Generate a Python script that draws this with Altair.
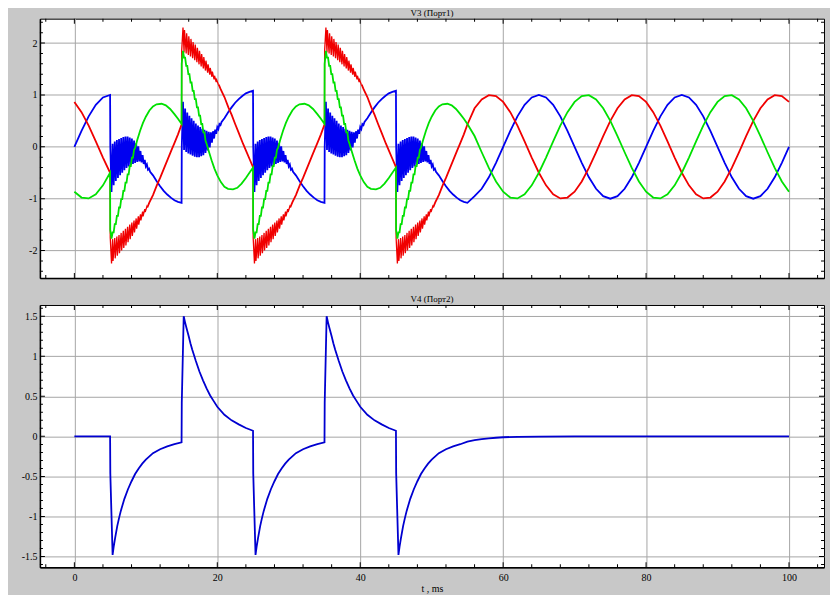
import altair as alt
import pandas as pd

FONT = "Liberation Serif"
BG = "#c8c8c8"
GRID = "#a6a6a6"

# ---------------- axes ----------------
x_domain = [-4.82, 104.9]
x_major = [0, 20, 40, 60, 80, 100]
x_minor = [-4, 4, 8, 12, 16, 24, 28, 32, 36, 44, 48, 52, 56, 64, 68, 72, 76,
           84, 88, 92, 96, 104]

y1_domain = [-2.53, 2.47]
y1_major = [-2, -1, 0, 1, 2]
y1_minor = [-2.4, -2.2, -1.8, -1.6, -1.4, -1.2, -0.8, -0.6, -0.4, -0.2,
            0.2, 0.4, 0.6, 0.8, 1.2, 1.4, 1.6, 1.8, 2.2, 2.4]

y2_domain = [-1.635, 1.64]
y2_major = [-1.5, -1.0, -0.5, 0, 0.5, 1.0, 1.5]
y2_minor = [-1.6, -1.4, -1.3, -1.2, -1.1, -0.9, -0.8, -0.7, -0.6, -0.4, -0.3,
            -0.2, -0.1, 0.1, 0.2, 0.3, 0.4, 0.6, 0.7, 0.8, 0.9, 1.1, 1.2,
            1.3, 1.4, 1.6]

# ---------------- switching instants (ms) ----------------
fault1_starts = [5, 25, 45]
fault2_starts = [15, 35]

# ---------------- V3: before the first switching ----------------
t_pre = [0, 1, 2, 3, 4, 5]
a_pre = [0.0, 0.309, 0.588, 0.809, 0.951, 1.0]        # blue
b_pre = [0.866, 0.669, 0.407, 0.105, -0.208, -0.5]    # red
c_pre = [-0.866, -0.978, -0.995, -0.914, -0.743, -0.5]  # green

# ---------------- V3: steady state after t = 56 ms ----------------
t_post = list(range(56, 101))
a_post = [-0.951, -0.809, -0.588, -0.309,
          0.0, 0.309, 0.588, 0.809, 0.951, 1.0, 0.951, 0.809, 0.588, 0.309,
          0.0, -0.309, -0.588, -0.809, -0.951, -1.0, -0.951, -0.809, -0.588, -0.309,
          0.0, 0.309, 0.588, 0.809, 0.951, 1.0, 0.951, 0.809, 0.588, 0.309,
          0.0, -0.309, -0.588, -0.809, -0.951, -1.0, -0.951, -0.809, -0.588, -0.309,
          0.0]
b_post = [0.743, 0.914, 0.995, 0.978,
          0.866, 0.669, 0.407, 0.105, -0.208, -0.5, -0.743, -0.914, -0.995, -0.978,
          -0.866, -0.669, -0.407, -0.105, 0.208, 0.5, 0.743, 0.914, 0.995, 0.978,
          0.866, 0.669, 0.407, 0.105, -0.208, -0.5, -0.743, -0.914, -0.995, -0.978,
          -0.866, -0.669, -0.407, -0.105, 0.208, 0.5, 0.743, 0.914, 0.995, 0.978,
          0.866]
c_post = [0.208, -0.105, -0.407, -0.669,
          -0.866, -0.978, -0.995, -0.914, -0.743, -0.5, -0.208, 0.105, 0.407, 0.669,
          0.866, 0.978, 0.995, 0.914, 0.743, 0.5, 0.208, -0.105, -0.407, -0.669,
          -0.866, -0.978, -0.995, -0.914, -0.743, -0.5, -0.208, 0.105, 0.407, 0.669,
          0.866, 0.978, 0.995, 0.914, 0.743, 0.5, 0.208, -0.105, -0.407, -0.669,
          -0.866]

# ---------------- V3: interval shapes (time since switching, value) ----------------
a_fault1 = [(0.03, 0.0), (0.2, -0.87), (0.35, 0.06), (0.5, -0.74), (0.65, 0.1),
            (0.8, -0.66), (0.95, 0.13), (1.1, -0.6), (1.25, 0.15), (1.4, -0.55),
            (1.55, 0.17), (1.7, -0.5), (1.85, 0.19), (2.0, -0.45), (2.15, 0.2),
            (2.3, -0.41), (2.45, 0.2), (2.6, -0.38), (2.75, 0.18), (2.9, -0.35),
            (3.05, 0.16), (3.2, -0.33), (3.35, 0.12), (3.5, -0.31), (3.65, 0.07),
            (3.8, -0.29), (3.95, 0.01), (4.1, -0.28), (4.25, -0.08), (4.4, -0.3),
            (4.55, -0.16), (4.7, -0.33), (4.85, -0.25), (5.0, -0.38), (5.15, -0.34),
            (5.3, -0.44), (5.45, -0.42), (5.6, -0.48), (6.0, -0.55), (6.5, -0.66),
            (7.0, -0.76), (7.5, -0.85), (8.0, -0.92), (8.5, -0.98), (9.0, -1.03),
            (9.5, -1.06), (10.0, -1.08)]
a_fault2 = [(0.03, 0.0), (0.2, 0.87), (0.35, -0.06), (0.5, 0.74), (0.65, -0.1),
            (0.8, 0.66), (0.95, -0.13), (1.1, 0.6), (1.25, -0.15), (1.4, 0.55),
            (1.55, -0.17), (1.7, 0.5), (1.85, -0.19), (2.0, 0.45), (2.15, -0.2),
            (2.3, 0.41), (2.45, -0.2), (2.6, 0.38), (2.75, -0.18), (2.9, 0.35),
            (3.05, -0.16), (3.2, 0.33), (3.35, -0.12), (3.5, 0.31), (3.65, -0.07),
            (3.8, 0.29), (3.95, -0.01), (4.1, 0.28), (4.25, 0.08), (4.4, 0.3),
            (4.55, 0.16), (4.7, 0.33), (4.85, 0.25), (5.0, 0.38), (5.15, 0.34),
            (5.3, 0.44), (5.45, 0.42), (5.6, 0.48), (6.0, 0.55), (6.5, 0.66),
            (7.0, 0.76), (7.5, 0.85), (8.0, 0.92), (8.5, 0.98), (9.0, 1.03),
            (9.5, 1.06), (10.0, 1.08)]
b_fault1 = [(0.02, -1.75), (0.2, -2.25), (0.35, -1.78), (0.41, -2.2), (0.65, -1.76),
            (0.71, -2.15), (0.95, -1.73), (1.01, -2.1), (1.25, -1.7), (1.31, -2.05),
            (1.55, -1.66), (1.61, -2.0), (1.85, -1.62), (1.91, -1.95), (2.15, -1.58),
            (2.21, -1.9), (2.45, -1.54), (2.51, -1.84), (2.75, -1.5), (2.81, -1.78),
            (3.05, -1.46), (3.11, -1.72), (3.35, -1.42), (3.41, -1.65), (3.65, -1.38),
            (3.71, -1.58), (3.95, -1.34), (4.01, -1.5), (4.25, -1.3), (4.31, -1.42),
            (4.55, -1.25), (4.61, -1.34), (4.85, -1.2), (4.91, -1.26), (5.15, -1.15),
            (5.21, -1.17), (5.5, -1.07), (6.0, -0.93), (6.55, -0.74), (7.0, -0.6),
            (7.5, -0.43), (8.0, -0.26), (8.6, -0.06), (9.0, 0.07), (9.5, 0.24),
            (10.0, 0.43)]
b_fault2 = [(0.02, 1.85), (0.2, 2.3), (0.35, 1.82), (0.41, 2.25), (0.65, 1.8),
            (0.71, 2.19), (0.95, 1.77), (1.01, 2.13), (1.25, 1.74), (1.31, 2.08),
            (1.55, 1.71), (1.61, 2.02), (1.85, 1.67), (1.91, 1.97), (2.15, 1.63),
            (2.21, 1.91), (2.45, 1.59), (2.51, 1.85), (2.75, 1.55), (2.81, 1.79),
            (3.05, 1.51), (3.11, 1.73), (3.35, 1.47), (3.41, 1.66), (3.65, 1.43),
            (3.71, 1.59), (3.95, 1.39), (4.01, 1.52), (4.25, 1.35), (4.31, 1.45),
            (4.55, 1.3), (4.61, 1.37), (4.85, 1.25), (4.91, 1.29), (5.15, 1.2),
            (5.21, 1.2), (5.5, 1.1), (6.0, 0.96), (6.55, 0.76), (7.0, 0.62),
            (7.5, 0.44), (8.0, 0.27), (8.6, 0.06), (9.0, -0.07), (9.5, -0.23),
            (10.0, -0.39)]
c_fault1 = [(0.02, -1.6), (0.2, -1.77), (0.35, -1.65), (0.5, -1.65), (0.65, -1.49),
            (0.8, -1.49), (0.95, -1.33), (1.1, -1.33), (1.25, -1.17), (1.4, -1.17),
            (1.55, -1.01), (1.7, -1.01), (1.85, -0.85), (2.0, -0.85), (2.15, -0.69),
            (2.3, -0.69), (2.45, -0.53), (2.6, -0.53), (2.75, -0.37), (2.9, -0.37),
            (3.05, -0.21), (3.2, -0.21), (3.35, -0.06), (3.5, -0.02), (3.8, 0.13),
            (4.2, 0.31), (4.6, 0.46), (5.0, 0.58), (5.5, 0.7), (6.0, 0.78),
            (6.5, 0.82), (7.2, 0.83), (7.8, 0.8), (8.4, 0.73), (9.0, 0.63),
            (9.5, 0.54), (10.0, 0.44)]
c_fault2 = [(0.02, 1.6), (0.2, 1.85), (0.35, 1.72), (0.5, 1.72), (0.65, 1.56),
            (0.8, 1.56), (0.95, 1.4), (1.1, 1.4), (1.25, 1.24), (1.4, 1.24),
            (1.55, 1.08), (1.7, 1.08), (1.85, 0.92), (2.0, 0.92), (2.15, 0.76),
            (2.3, 0.76), (2.45, 0.6), (2.6, 0.6), (2.75, 0.44), (2.9, 0.44),
            (3.05, 0.28), (3.2, 0.28), (3.35, 0.12), (3.5, 0.06), (3.8, -0.08),
            (4.2, -0.26), (4.6, -0.42), (5.0, -0.55), (5.5, -0.68), (6.0, -0.77),
            (6.5, -0.81), (7.2, -0.82), (7.8, -0.79), (8.4, -0.71), (9.0, -0.6),
            (9.5, -0.5), (10.0, -0.4)]

# end of the fine ripple (ms after switching) for each phase
ripple_end = {"A": 0.0, "B": 5.21, "C": 0.0}

# ---------------- V4 ----------------
t4_pre = [0, 5]
v4_pre = [0.0, 0.0]
v4_fault1 = [(0.03, -0.46), (0.35, -1.48), (0.5, -1.38), (0.7, -1.27), (1.0, -1.12),
             (1.25, -1.02), (1.5, -0.93), (2.0, -0.78), (2.5, -0.66), (3.0, -0.56),
             (3.5, -0.47), (4.0, -0.4), (4.5, -0.34), (5.0, -0.29), (6.0, -0.21),
             (7.0, -0.16), (8.0, -0.125), (9.0, -0.098), (10.0, -0.075)]
v4_fault2 = [(0.03, 0.42), (0.3, 1.5), (0.5, 1.42), (0.7, 1.35), (1.0, 1.25),
             (1.25, 1.16), (1.5, 1.08), (2.0, 0.94), (2.5, 0.81), (3.0, 0.7),
             (3.5, 0.6), (4.0, 0.51), (4.5, 0.44), (5.0, 0.37), (6.0, 0.27),
             (7.0, 0.2), (8.0, 0.15), (9.0, 0.105), (10.0, 0.07)]
t4_post = [55, 56, 57, 58, 59, 60, 62, 65, 70, 100]
v4_post = [-0.065, -0.048, -0.035, -0.025, -0.017, -0.011, -0.005, -0.002, 0.0, 0.0]


def assemble(pre_t, pre_v, f1, f2, post_t, post_v, r_end=0.0):
    """Return (t, v, in_ripple) points in time order."""
    pts = [(t, v, False) for t, v in zip(pre_t, pre_v)]
    segs = sorted([(s, f1) for s in fault1_starts] + [(s, f2) for s in fault2_starts])
    for s, seg in segs:
        pts += [(s + r, v, r <= r_end) for r, v in seg if s + r < post_t[0]]
    pts += [(t, v, False) for t, v in zip(post_t, post_v)]
    return pts


def split_pieces(name, pts):
    """Cut a trace into pieces (ripple / normal) sharing their end points."""
    out, pid = [], 0
    for i, (t, v, rip) in enumerate(pts):
        if i > 0 and rip != pts[i - 1][2]:
            pid += 1
            out.append({"t": pts[i - 1][0], "v": pts[i - 1][1], "s": name,
                        "piece": f"{name}{pid}", "w": 1.3 if rip else 1.8})
        out.append({"t": t, "v": v, "s": name, "piece": f"{name}{pid}",
                    "w": 1.3 if rip else 1.8})
    return out


rows = []
for name, pre, f1, f2, post in [("A", a_pre, a_fault1, a_fault2, a_post),
                                ("B", b_pre, b_fault1, b_fault2, b_post),
                                ("C", c_pre, c_fault1, c_fault2, c_post)]:
    rows += split_pieces(name, assemble(t_pre, pre, f1, f2, t_post, post,
                                        ripple_end[name]))
df_top = pd.DataFrame(rows)

df_bot = pd.DataFrame(split_pieces(
    "V4", assemble(t4_pre, v4_pre, v4_fault1, v4_fault2, t4_post, v4_post)))

top_series = [("A", "#0000f0"), ("B", "#f00000"), ("C", "#00e000")]
bot_series = [("V4", "#0000d0")]


def panel(df, series, y_domain, y_major, y_minor, title, height, x_labels):
    xs = alt.Scale(domain=x_domain, nice=False, zero=False)
    ys = alt.Scale(domain=y_domain, nice=False, zero=False)
    xa = alt.Axis(orient="bottom", values=x_major, grid=True, gridColor=GRID,
                  gridWidth=1, ticks=False, tickSize=0, domain=True,
                  domainColor="black", domainWidth=1.5, labels=x_labels,
                  labelExpr="'' + datum.value", labelFont=FONT, labelFontSize=10,
                  labelColor="black", labelPadding=5, labelFlush=False,
                  labelOverlap=False,
                  title=("t , ms" if x_labels else None), titleFont=FONT,
                  titleFontSize=10, titleFontWeight="normal", titleColor="black",
                  titlePadding=1)
    ya = alt.Axis(orient="left", values=y_major, grid=True, gridColor=GRID,
                  gridWidth=1, ticks=False, tickSize=0, domain=True,
                  domainColor="black", domainWidth=1.5,
                  labelExpr="'' + datum.value", labelFont=FONT, labelFontSize=10,
                  labelColor="black", labelPadding=3, labelAlign="right",
                  labelBaseline="middle", labelFlush=False, labelOverlap=False,
                  title=None, minExtent=31, maxExtent=31)
    layers = []
    for name, color in series:
        layers.append(
            alt.Chart(df).transform_filter(alt.datum.s == name)
            .mark_line(color=color, clip=True)
            .encode(x=alt.X("t:Q", scale=xs, axis=xa),
                    y=alt.Y("v:Q", scale=ys, axis=ya),
                    detail="piece:N",
                    strokeWidth=alt.StrokeWidth("w:Q", scale=None))
        )

    def xticks(vals, edge, size):
        return (alt.Chart(pd.DataFrame({"p": vals}))
                .mark_tick(orient="vertical", size=size, thickness=1,
                           color="black", opacity=1, clip=True)
                .encode(x=alt.X("p:Q", scale=xs, axis=xa),
                        y=alt.YDatum(edge, scale=ys, axis=ya)))

    def yticks(vals, edge, size):
        return (alt.Chart(pd.DataFrame({"p": vals}))
                .mark_tick(orient="horizontal", size=size, thickness=1,
                           color="black", opacity=1, clip=True)
                .encode(y=alt.Y("p:Q", scale=ys, axis=ya),
                        x=alt.XDatum(edge, scale=xs, axis=xa)))

    for edge in y_domain:
        layers.append(xticks(x_major, edge, 10))
        layers.append(xticks(x_minor, edge, 6))
    for edge in x_domain:
        layers.append(yticks(y_major, edge, 10))
        layers.append(yticks(y_minor, edge, 6))

    return alt.layer(*layers).properties(
        width=786, height=height,
        title=alt.TitleParams(title, anchor="middle", offset=1, fontSize=9,
                              font=FONT, fontWeight="normal", color="black"))


top = panel(df_top, top_series, y1_domain, y1_major, y1_minor,
            "V3 (Порт1)", 260, False)
bottom = panel(df_bot, bot_series, y2_domain, y2_major, y2_minor,
               "V4 (Порт2)", 263, True)

chart = (alt.vconcat(top, bottom, spacing=15)
         .properties(background=BG,
                     padding={"left": 0, "top": -1, "right": 5, "bottom": 0})
         .configure_view(fill="white", stroke="black", strokeWidth=1))

chart.save("out.html", embed_options={"renderer": "svg", "actions": False})
